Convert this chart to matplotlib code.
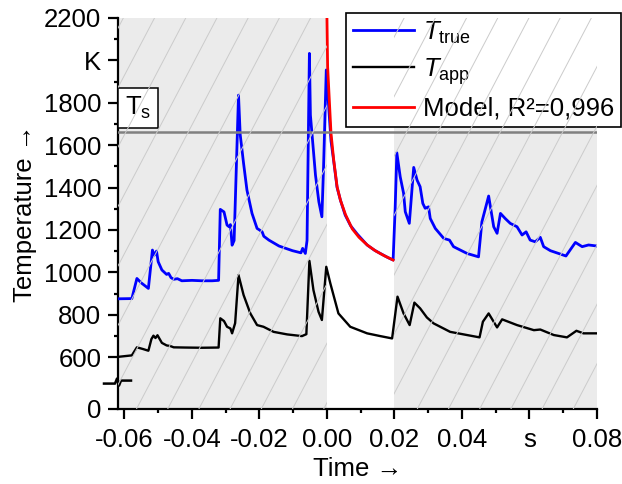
import matplotlib
matplotlib.use("Agg")
import matplotlib.pyplot as plt
import numpy as np
from matplotlib.collections import LineCollection
from matplotlib.transforms import IdentityTransform, blended_transform_factory

plt.rcParams['font.family'] = ['Liberation Sans', 'DejaVu Sans']
plt.rcParams['mathtext.fontset'] = 'custom'
plt.rcParams['mathtext.rm'] = 'Liberation Sans'
plt.rcParams['mathtext.it'] = 'Liberation Sans:italic'

# ---------------- data ----------------
t_true = [-0.0619, -0.0578, -0.0563, -0.0550, -0.0529, -0.0520, -0.0517, -0.0512, -0.0505, -0.0500,
          -0.0489, -0.0475, -0.0469, -0.0462, -0.0454, -0.0443, -0.0430, -0.0400, -0.0370, -0.0340,
          -0.0321, -0.0316, -0.0305, -0.0296, -0.0290, -0.0286, -0.0281, -0.0275, -0.0262, -0.0257,
          -0.0247, -0.0237, -0.0222, -0.0207, -0.0200, -0.0192, -0.0187, -0.0172, -0.0142, -0.0102,
          -0.0077, -0.0072, -0.0064, -0.0059, -0.0052, -0.0049, -0.0034, -0.0024, -0.0015, -0.0010,
          -0.0002, 0.0006, 0.0012, 0.0020, 0.0030, 0.0040, 0.0054, 0.0070, 0.0090, 0.0119,
          0.0140, 0.0158, 0.0180, 0.0196, 0.0202, 0.0207, 0.0217, 0.0227, 0.0232, 0.0244,
          0.0257, 0.0267, 0.0276, 0.0284, 0.0291, 0.0301, 0.0306, 0.0321, 0.0346, 0.0363,
          0.0375, 0.0415, 0.0449, 0.0459, 0.0479, 0.0494, 0.0504, 0.0514, 0.0528, 0.0543,
          0.0563, 0.0578, 0.0590, 0.0602, 0.0617, 0.0632, 0.0642, 0.0662, 0.0686, 0.0708,
          0.0736, 0.0756, 0.0775, 0.0800]
T_true = [875, 876, 971, 950, 924, 1060, 1105, 1080, 1100, 1050,
          1011, 990, 995, 975, 967, 970, 960, 962, 960, 960,
          962, 1297, 1285, 1223, 1215, 1225, 1128, 1150, 1836, 1650,
          1514, 1388, 1278, 1207, 1200, 1191, 1170, 1152, 1124, 1102,
          1092, 1113, 1089, 1150, 2033, 1742, 1459, 1333, 1262, 1500,
          1955, 1760, 1620, 1525, 1400, 1340, 1270, 1220, 1180, 1129,
          1105, 1089, 1070, 1058, 1300, 1564, 1451, 1373, 1286, 1231,
          1495, 1435, 1404, 1325, 1302, 1309, 1254, 1207, 1160, 1152,
          1121, 1089, 1073, 1238, 1360, 1215, 1184, 1278, 1254, 1231,
          1215, 1176, 1191, 1152, 1144, 1165, 1121, 1102, 1089, 1077,
          1141, 1121, 1129, 1124]

t_app = [-0.0619, -0.0578, -0.0563, -0.0545, -0.0529, -0.0520, -0.0514, -0.0508, -0.0502, -0.0489,
         -0.0475, -0.0464, -0.0454, -0.0420, -0.0370, -0.0321, -0.0316, -0.0305, -0.0296, -0.0286,
         -0.0281, -0.0272, -0.0262, -0.0247, -0.0227, -0.0207, -0.0188, -0.0158, -0.0118, -0.0074,
         -0.0061, -0.0052, -0.0040, -0.0025, -0.0015, -0.0002, 0.0010, 0.0034, 0.0069, 0.0119,
         0.0158, 0.0193, 0.0209, 0.0227, 0.0245, 0.0259, 0.0276, 0.0296, 0.0316, 0.0365,
         0.0415, 0.0452, 0.0462, 0.0479, 0.0504, 0.0519, 0.0563, 0.0613, 0.0632, 0.0672,
         0.0711, 0.0739, 0.0760, 0.0800]
T_app = [601, 608, 646, 638, 630, 685, 701, 690, 703, 667,
         655, 652, 646, 645, 644, 645, 783, 770, 743, 735,
         712, 760, 987, 893, 806, 751, 743, 719, 707, 699,
         708, 1054, 916, 814, 775, 1026, 948, 806, 743, 712,
         699, 688, 885, 806, 751, 857, 830, 787, 759, 719,
         704, 693, 767, 806, 740, 778, 751, 727, 730, 704,
         693, 724, 712, 712]

t_model = [0.0000, 0.0002, 0.0007, 0.0012, 0.0020, 0.0030, 0.0040, 0.0055, 0.0075, 0.0095,
           0.0120, 0.0145, 0.0170, 0.0196]
T_model = [2200, 1970, 1813, 1656, 1530, 1404, 1340, 1272, 1205, 1165,
           1128, 1100, 1078, 1058]

T_s = 1662
shaded = [(-0.0619, 0.0), (0.02, 0.08)]

y_ticks = [355, 600, 800, 1000, 1200, 1400, 1600, 1800, 2000, 2200]
y_ticklabels = ['0', '600', '800', '1000', '1200', '1400', '1600', '1800', 'K', '2200']
x_ticks = [-0.06, -0.04, -0.02, 0.00, 0.02, 0.04, 0.06, 0.08]
x_ticklabels = ['-0.06', '-0.04', '-0.02', '0.00', '0.02', '0.04', 's', '0.08']

FS = 18.5

# ---------------- figure ----------------
W, H = 622, 484
fig = plt.figure(figsize=(W / 100, H / 100), dpi=100)
ax = fig.add_axes([118 / W, 75 / H, 479 / W, 391 / H])
ax.set_xlim(-0.0619, 0.08)
ax.set_ylim(355, 2200)

# shaded regions with hatch lines
xs = np.arange(-400, 700, 31.2) + 341.1 % 31.2
segs = [[(x0, 0), (x0 + H / 1.905, H)] for x0 in xs]
for a, b in shaded:
    p = ax.axvspan(a, b, facecolor='#ebebeb', edgecolor='none', lw=0, zorder=0)
    lc = LineCollection(segs, colors='#cbcbcb', linewidths=0.7, transform=IdentityTransform(), zorder=0.5)
    fig.add_artist(lc)
    lc.set_clip_path(p)

ax.plot(t_true, T_true, color='#0000ff', lw=2.0, zorder=3, label=r'$T_{\mathrm{true}}$')
ax.plot(t_app, T_app, color='black', lw=1.7, zorder=3, label=r'$T_{\mathrm{app}}$')
ax.plot(t_model, T_model, color='#ff0000', lw=2.0, zorder=4, label='Model, R²=0,996')
ax.axhline(T_s, color='#808080', lw=1.8, zorder=5)

ax.text(138 / W, 1 - 108 / H, r'$\mathrm{T_s}$', transform=fig.transFigure, fontsize=FS,
        ha='center', va='center', zorder=6,
        bbox=dict(boxstyle='square,pad=0.25', fc='white', ec='black', lw=1.1))

# axes styling
for s in ['top', 'right']:
    ax.spines[s].set_visible(False)
for s in ['left', 'bottom']:
    ax.spines[s].set_linewidth(1.6)
ax.set_yticks(y_ticks)
ax.set_yticklabels(y_ticklabels)
ax.set_yticks(np.arange(700, 2200, 200), minor=True)
ax.set_xticks(x_ticks)
ax.set_xticklabels(x_ticklabels)
ax.set_xticks(np.arange(-0.05, 0.08, 0.02), minor=True)
ax.tick_params(which='major', length=7, width=1.6, labelsize=FS, pad=5, direction='out')
ax.tick_params(axis='x', which='major', pad=7)
ax.tick_params(which='minor', length=3, width=1.6, direction='out')
ax.set_xlabel('Time →', fontsize=FS, labelpad=3)
ax.set_ylabel('Temperature →', fontsize=FS, labelpad=5)

# axis break symbol
bt = blended_transform_factory(ax.transAxes, ax.transData)
py2d = 1 / 0.2119
pxa = 1 / 479
bx = [-14, -3, -1, 1, 3, 13]
by = [1.5, 1.5, -3.5, 3.5, -1.5, -1.5]
ax.plot([v * pxa for v in bx], [482 - v * py2d for v in by], color='black', lw=1.8,
        transform=bt, clip_on=False, zorder=7)

leg = ax.legend(loc='upper right', bbox_to_anchor=(621 / W, 1 - 13 / H), bbox_transform=fig.transFigure,
                fontsize=FS, frameon=True, fancybox=False, framealpha=1, edgecolor='black',
                borderaxespad=0, handlelength=2.4, handletextpad=0.35, labelspacing=0.4,
                borderpad=0.25)
leg.get_frame().set_linewidth(1.2)
leg.set_zorder(10)

fig.savefig('out.png', dpi=100)
